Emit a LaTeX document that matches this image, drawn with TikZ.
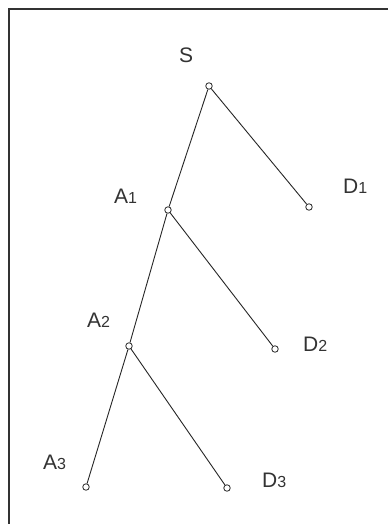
\documentclass[tikz,border=0pt]{standalone}
\usepackage{fontspec}
\setmainfont{Liberation Sans}
\newcommand{\lbl}[2]{{\fontsize{21}{21}\selectfont #1}\raisebox{-0.5pt}{\fontsize{16}{16}\selectfont #2}}
\begin{document}
\begin{tikzpicture}[x=1pt,y=-1pt,
  vtx/.style={circle,draw=black!85,line width=0.8pt,inner sep=0pt,minimum size=6.5pt,fill=white},
  edge/.style={draw=black!85,line width=0.9pt},
  lab/.style={anchor=base west,inner sep=0pt,text=black!80}]
\useasboundingbox (0,0) rectangle (388,524);
\fill[white] (0,0) rectangle (388,524);
\draw[black!80,line width=1.6pt] (9,524) -- (9,9) -- (388,9);
% vertices
\node[vtx] (s) at (209,86) {};
\node[vtx] (a1) at (168,210) {};
\node[vtx] (d1) at (309,207) {};
\node[vtx] (a2) at (129,346) {};
\node[vtx] (d2) at (275,349) {};
\node[vtx] (a3) at (86,487) {};
\node[vtx] (d3) at (227,488) {};
% edges
\draw[edge] (s) -- (a1);
\draw[edge] (s) -- (d1);
\draw[edge] (a1) -- (a2);
\draw[edge] (a1) -- (d2);
\draw[edge] (a2) -- (a3);
\draw[edge] (a2) -- (d3);
% labels
\node[lab] (ls) at (179,63) {\fontsize{21}{21}\selectfont S};
\node[lab] (la1) at (114,203) {\lbl{A}{1}};
\node[lab] (ld1) at (343,193) {\lbl{D}{1}};
\node[lab] (la2) at (87,327) {\lbl{A}{2}};
\node[lab] (ld2) at (303,351) {\lbl{D}{2}};
\node[lab] (la3) at (43,469) {\lbl{A}{3}};
\node[lab] (ld3) at (262,487) {\lbl{D}{3}};
\end{tikzpicture}
\end{document}
